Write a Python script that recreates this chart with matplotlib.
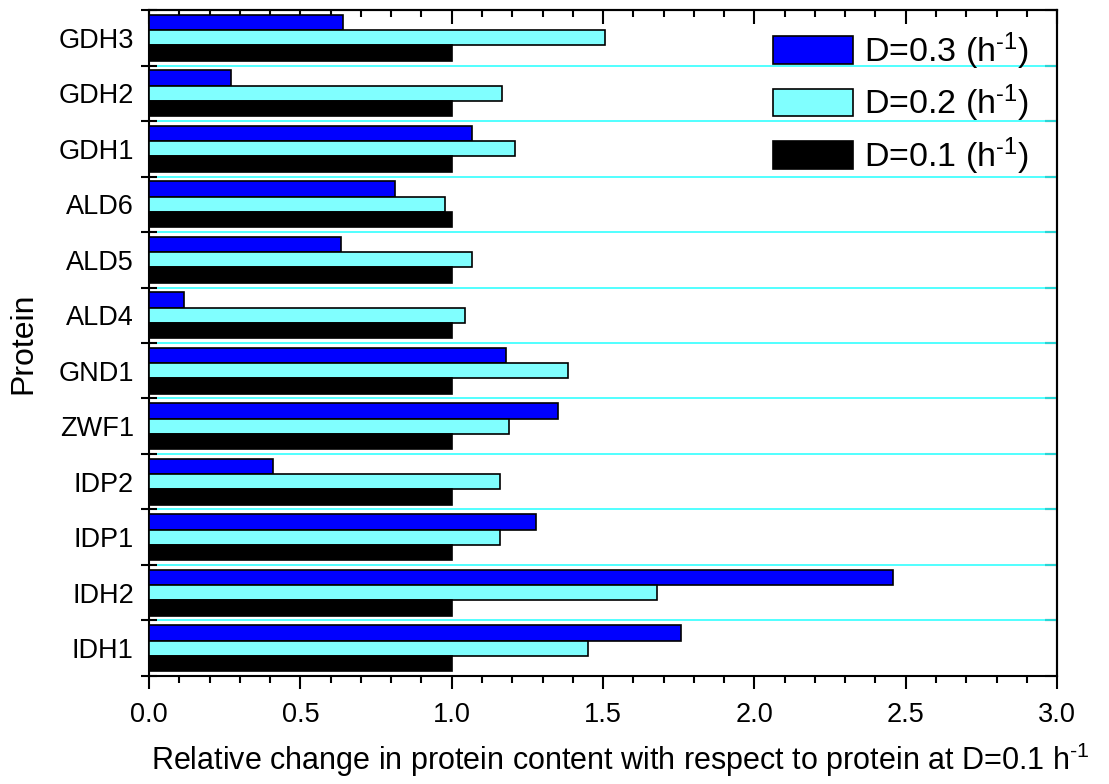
import numpy as np
import matplotlib.pyplot as plt
from matplotlib.ticker import MultipleLocator

plt.rcParams['font.family'] = ['Liberation Sans', 'DejaVu Sans']
plt.rcParams['mathtext.fontset'] = 'custom'
plt.rcParams['mathtext.rm'] = 'Liberation Sans'
plt.rcParams['mathtext.it'] = 'Liberation Sans'

# bottom to top
proteins = ['IDH1', 'IDH2', 'IDP1', 'IDP2', 'ZWF1', 'GND1',
            'ALD4', 'ALD5', 'ALD6', 'GDH1', 'GDH2', 'GDH3']
d03 = [1.756, 2.459, 1.28, 0.408, 1.35, 1.18, 0.114, 0.633, 0.814, 1.067, 0.27, 0.64]
d02 = [1.449, 1.677, 1.158, 1.161, 1.19, 1.383, 1.044, 1.066, 0.978, 1.209, 1.167, 1.505]
d01 = [1.0, 1.0, 1.0, 1.0, 1.0, 1.0, 1.0, 1.0, 1.0, 1.0, 1.0, 1.0]
sup = '$^{\\mathregular{\u20101}}$'  # superscript "-1" with a plain hyphen
labels = ['D=0.3 (h' + sup + ')', 'D=0.2 (h' + sup + ')', 'D=0.1 (h' + sup + ')']

fig = plt.figure(figsize=(11.09, 7.84), dpi=100)
ax = fig.add_axes([0.1344, 0.1378, 0.8188, 0.8494])

y = np.arange(len(proteins))
h = 0.275
ax.barh(y + h, d03, height=h, color='#0000ff', edgecolor='black', lw=1.2, label=labels[0], zorder=3)
ax.barh(y, d02, height=h, color='#80ffff', edgecolor='black', lw=1.2, label=labels[1], zorder=3)
ax.barh(y - h, d01, height=h, color='black', edgecolor='black', lw=1.2, label=labels[2], zorder=3)

ax.set_xlim(0, 3.0)
ax.set_ylim(-0.5, len(proteins) - 0.5)

seps = np.arange(len(proteins) + 1) - 0.5
ax.set_yticks(seps)
ax.set_yticklabels([])
ax.set_yticks(y, minor=True)
ax.set_yticklabels(proteins, minor=True)
ax.tick_params(axis='y', which='major', direction='inout', length=11, width=1.5)
ax.tick_params(axis='y', which='minor', length=0, pad=11, labelsize=19.5)
ax.grid(axis='y', which='major', color='#33ffff', lw=1.2, zorder=1)

ax.xaxis.set_major_locator(MultipleLocator(0.5))
ax.xaxis.set_minor_locator(MultipleLocator(0.1))
ax.tick_params(axis='x', which='major', direction='out', length=9, width=1.5, pad=10, labelsize=19.5)
ax.tick_params(axis='x', which='minor', direction='out', length=5, width=1.5)

top = ax.secondary_xaxis('top')
top.xaxis.set_major_locator(MultipleLocator(0.5))
top.xaxis.set_minor_locator(MultipleLocator(0.1))
top.tick_params(axis='x', which='major', direction='in', length=10, width=1.5, labeltop=False)
top.tick_params(axis='x', which='minor', direction='in', length=5, width=1.5)

right = ax.secondary_yaxis('right')
right.set_yticks(seps)
right.set_yticklabels([])
right.tick_params(axis='y', direction='in', length=9, width=1.5)

for a in (ax, top, right):
    for s in a.spines.values():
        s.set_linewidth(1.5)

ax.set_xlabel('Relative change in protein content with respect to protein at D=0.1 h' + sup,
              fontsize=22, labelpad=9)
ax.xaxis.label.set_x(0.519)
ax.set_ylabel('Protein', fontsize=23, labelpad=14)

ax.legend(loc='upper right', bbox_to_anchor=(0.991, 1.0), frameon=False, fontsize=24.5,
          handlelength=2.35, handleheight=0.87, handletextpad=0.3, labelspacing=0.32,
          borderaxespad=0.2)

fig.savefig('out.png', dpi=100)
